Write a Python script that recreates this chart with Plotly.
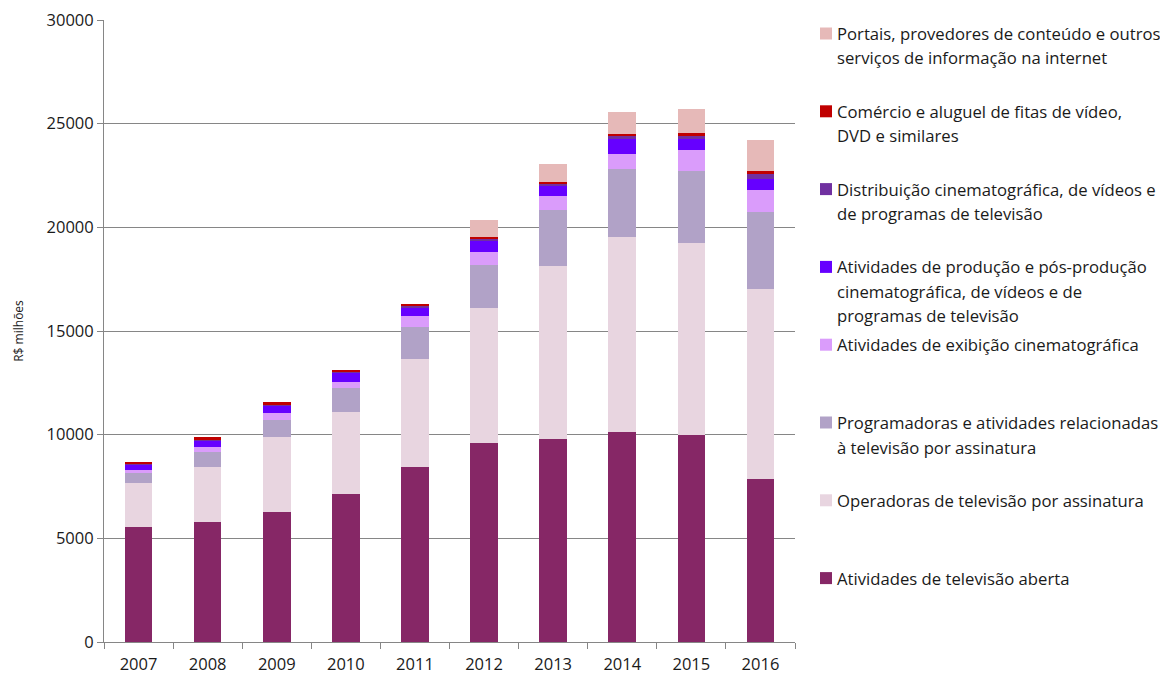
import plotly.graph_objects as go

years = ["2007", "2008", "2009", "2010", "2011", "2012", "2013", "2014", "2015", "2016"]

aberta = [5530, 5800, 6290, 7150, 8420, 9600, 9810, 10150, 10000, 7860]
operadoras = [2120, 2640, 3600, 3960, 5240, 6530, 8330, 9390, 9240, 9160]
programadoras = [510, 740, 820, 1160, 1540, 2060, 2710, 3280, 3490, 3730]
exibicao = [115, 240, 340, 275, 530, 630, 680, 720, 980, 1060]
producao = [290, 310, 350, 450, 400, 545, 480, 725, 550, 530]
distribuicao = [30, 60, 50, 50, 80, 115, 95, 160, 175, 260]
comercio = [50, 80, 115, 80, 80, 63, 80, 80, 95, 95]
portais = [0, 0, 0, 0, 0, 835, 850, 1045, 1175, 1510]

series = [
    (["Atividades de televisão aberta"], aberta, "#862766"),
    (["Operadoras de televisão por assinatura"], operadoras, "#E8D5E0"),
    (["Programadoras e atividades relacionadas", "à televisão por assinatura"], programadoras, "#B1A2C7"),
    (["Atividades de exibição cinematográfica"], exibicao, "#DA9CFB"),
    (["Atividades de produção e pós-produção", "cinematográfica, de vídeos e de", "programas de televisão"], producao, "#6600FF"),
    (["Distribuição cinematográfica, de vídeos e", "de programas de televisão"], distribuicao, "#7030A0"),
    (["Comércio e aluguel de fitas de vídeo,", "DVD e similares"], comercio, "#C00000"),
    (["Portais, provedores de conteúdo e outros", "serviços de informação na internet"], portais, "#E6B9B8"),
]

FONT = "Open Sans"
TXT = "#1a1a1a"
fig = go.Figure()
for lines, vals, col in series:
    fig.add_trace(go.Bar(
        x=years, y=vals, name=" ".join(lines),
        marker=dict(color=col, line=dict(width=0)),
        showlegend=False,
    ))

# the page body adds an 8px offset; geometry below is in figure pixels
OFF = 8
W, H = 1168, 682
L, T = 104 - OFF, 20 - OFF
R = W - (795 - OFF)
B = H - (642 - OFF)
pw, ph = W - L - R, H - T - B

def px_x(px):  # px in screen coordinates
    return (px - OFF - L) / pw

def px_y(py):
    return (H - B - (py - OFF)) / ph

shapes = []
annotations = []
legend_order = list(reversed(series))
for i, (lines, vals, col) in enumerate(legend_order):
    y0 = 33.5 + 77.8 * i
    shapes.append(dict(type="rect", xref="paper", yref="paper",
                       x0=px_x(820), x1=px_x(832), y0=px_y(y0 + 6), y1=px_y(y0 - 6),
                       fillcolor=col, line=dict(width=0)))
    for j, txt in enumerate(lines):
        annotations.append(dict(text=txt, xref="paper", yref="paper",
                                x=px_x(835), y=px_y(y0 + 24.5 * j),
                                xanchor="left", yanchor="middle", showarrow=False,
                                font=dict(family=FONT, size=16.7, color=TXT)))

fig.update_layout(
    barmode="stack",
    bargap=0.6,
    width=W, height=H,
    margin=dict(l=L, r=R, t=T, b=B, pad=0, autoexpand=False),
    plot_bgcolor="white", paper_bgcolor="white",
    font=dict(family=FONT, size=14, color=TXT),
    shapes=shapes,
    annotations=annotations,
    xaxis=dict(
        type="category", showline=True, linecolor="#868686", linewidth=1,
        ticks="outside", tickson="boundaries", ticklen=6, tickcolor="#868686",
        tickfont=dict(family=FONT, size=16.5, color=TXT),
        ticklabelstandoff=7, automargin=False,
        showgrid=False,
    ),
    yaxis=dict(
        range=[0, 30000], dtick=5000, tickformat="d",
        showline=True, linecolor="#868686", linewidth=1,
        ticks="outside", ticklen=6, tickcolor="#868686",
        showgrid=True, gridcolor="#868686", gridwidth=1,
        zeroline=False, ticklabeloverflow="allow", automargin=False,
        tickfont=dict(family=FONT, size=16.5, color=TXT),
        title=dict(text="R$ milhões", font=dict(family=FONT, size=12, color=TXT), standoff=20),
    ),
)

fig.write_html("out.html")
